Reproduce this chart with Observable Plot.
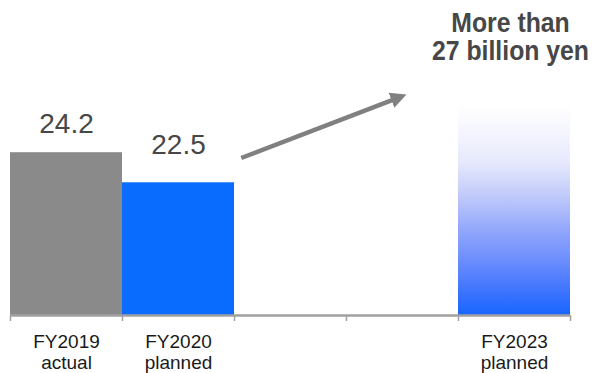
<!DOCTYPE html>
<html>
<head>
<meta charset="utf-8">
<script src="https://cdn.jsdelivr.net/npm/d3@7"></script>
<script src="https://cdn.jsdelivr.net/npm/@observablehq/plot@0.6"></script>
<style>
  html, body { margin: 0; padding: 0; background: #fff; }
  svg { display: block; }
</style>
</head>
<body>
<div id="chart"></div>
<script>
// Revenue by fiscal year (billion yen); two empty slots separate the plan horizon.
const fiscalYears = ["FY2019", "FY2020", "", "", "FY2023"];
const basis = ["actual", "planned", "", "", "planned"];
const revenue = [24.2, 22.5, null, null, 27];
const revenueLabels = ["24.2", "22.5", null, null, null];
const targetNote = "More than\n27 billion yen";
// Growth arrow from the FY2020 plan towards the FY2023 target, in data units.
const trendArrow = [{x1: 2.06, y1: 23.9, x2: 3.46, y2: 27.3}];
// The value axis is truncated: bars rise from this floor.
const valueFloor = 15;

const rows = fiscalYears.map((fy, i) => ({
  i, fy, basis: basis[i], value: revenue[i], label: revenueLabels[i]
}));
const bars = rows.filter(d => d.value != null);
const actual = bars.filter(d => d.basis === "actual");
const plan = bars.filter(d => d.basis === "planned" && d.fy !== "FY2023");
const target = bars.filter(d => d.fy === "FY2023");

const valueText = (data, dy) => Plot.text(data, {
  x: d => d.i + 0.5, y: "value", text: "label",
  lineAnchor: "bottom", dy, fontSize: 28, fill: "#474747"
});

const chart = Plot.plot({
  width: 595,
  height: 373,
  marginLeft: 10,
  marginRight: 25,
  marginTop: 0,
  marginBottom: 58,
  x: {domain: [0, fiscalYears.length], axis: null},
  y: {domain: [valueFloor, 32.8], axis: null},
  style: {fontFamily: "'Liberation Sans', Arial, sans-serif", background: "#fff"},
  marks: [
    Plot.rect(actual, {x1: "i", x2: d => d.i + 1, y1: valueFloor, y2: "value", fill: "#8a8a8a"}),
    Plot.rect(plan, {x1: "i", x2: d => d.i + 1, y1: valueFloor, y2: "value", fill: "#0a6cff"}),
    Plot.rect(target, {x1: "i", x2: d => d.i + 1, y1: valueFloor, y2: "value", fill: "url(#fy2023-fade)"}),
    Plot.ruleY([valueFloor], {stroke: "#a0a0a0", strokeWidth: 2.5}),
    Plot.axisX({ticks: d3.range(fiscalYears.length + 1), tickSize: 6, tickFormat: () => "",
                stroke: "#a0a0a0", strokeWidth: 1.5}),
    Plot.text(rows.filter(d => d.fy), {
      x: d => d.i + 0.5, y: valueFloor, text: d => `${d.fy}\n${d.basis}`,
      lineAnchor: "top", dy: 17, fontSize: 19, lineHeight: 1.13, fill: "#1a1a1a"
    }),
    valueText(actual, -20),
    valueText(plan, -29),
    Plot.text(target, {
      x: d => d.i + 0.5, y: "value", text: () => targetNote,
      lineAnchor: "bottom", dx: -4, dy: -43.5, fontSize: 28.5, lineHeight: 0.98,
      fontWeight: "bold", fill: "#474747"
    }),
    Plot.link(trendArrow, {x1: "x1", y1: "y1", x2: "x2", y2: "y2",
      stroke: "#808080", strokeWidth: 4.5})
  ]
});

// Gradient for the FY2023 target bar and a filled arrowhead for the trend line.
const svg = d3.select(chart);
const defs = svg.insert("defs", ":first-child");
const grad = defs.append("linearGradient")
  .attr("id", "fy2023-fade").attr("x1", 0).attr("y1", 0).attr("x2", 0).attr("y2", 1);
[[0, "#ffffff"], [0.06, "#fcfcff"], [0.28, "#e6e9fc"], [0.44, "#c0cafa"],
 [0.59, "#95a9fb"], [0.75, "#6a8cfd"], [0.9, "#3a72fe"], [1, "#1766ff"]]
  .forEach(([o, c]) => grad.append("stop").attr("offset", o).attr("stop-color", c));
defs.append("marker")
  .attr("id", "trend-head")
  .attr("markerUnits", "userSpaceOnUse")
  .attr("viewBox", "0 -9 18 18")
  .attr("markerWidth", 18).attr("markerHeight", 18)
  .attr("refX", 7).attr("refY", 0)
  .attr("orient", "auto")
  .append("path").attr("d", "M0,-8L16,0L0,8Z").attr("fill", "#808080");
svg.selectAll('g[aria-label="link"] path, g[aria-label="link"] line')
  .attr("marker-end", "url(#trend-head)");

// Condensed headline lettering, squeezed about its own anchor.
svg.selectAll("text")
  .filter(function () { return this.textContent.includes("billion"); })
  .each(function () {
    const t = this.getAttribute("transform") || "";
    const x = +this.getAttribute("x") || 0;
    this.setAttribute("transform", `${t} translate(${x},0) scale(0.87,1) translate(${-x},0)`);
  });

document.getElementById("chart").appendChild(chart);
</script>
</body>
</html>
